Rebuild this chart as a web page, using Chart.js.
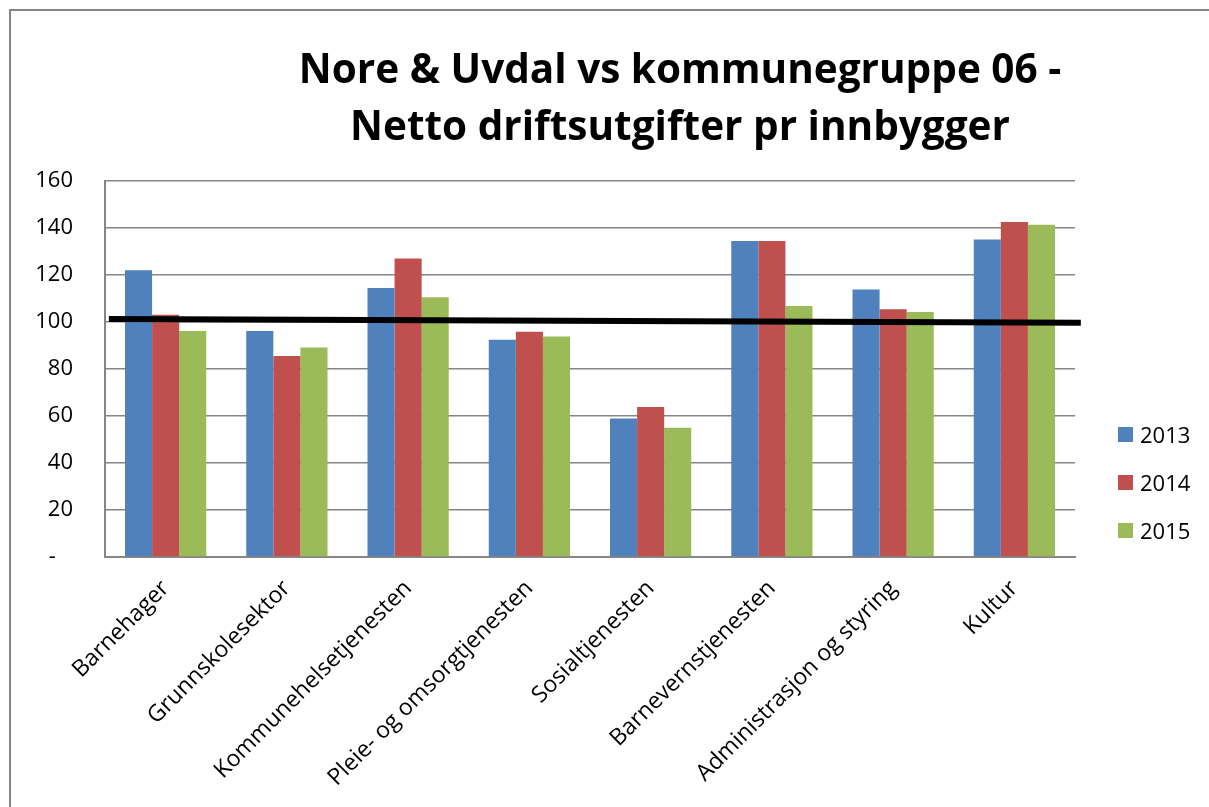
<!DOCTYPE html>
<html>
<head>
  <title>Nore & Uvdal vs kommunegruppe 06 - Netto driftsutgifter pr innbygger</title>
  <script src="https://cdn.jsdelivr.net/npm/chart.js"></script>
  <style>
    body { margin: 0; overflow: hidden; background: #fff; font-family: 'Open Sans', sans-serif; }
    #wrap { position: relative; width: 1209px; height: 807px; overflow: hidden; }
    /* chart frame: only the top and left edges are visible in the picture */
    #frame { position: absolute; left: 9px; top: 9px; width: 1300px; height: 900px;
      border-left: 2px solid #868686; border-top: 2px solid #868686; }
    #chartContainer { position: absolute; left: 0; top: 0; width: 1209px; height: 807px; }
    #chartTitle { position: absolute; left: 0; top: 39px; width: 1360px; text-align: center;
      font-weight: bold; font-size: 40.5px; line-height: 57px; color: #000; }
    #legend { position: absolute; left: 1118px; top: 410px; }
    .item { display: flex; align-items: center; height: 48px; font-size: 22px; color: #000; }
    .box { width: 15px; height: 15px; margin-right: 7px; }
  </style>
</head>
<body>
  <div id="wrap">
    <div id="frame"></div>
    <div id="chartContainer">
      <canvas id="barChart"></canvas>
    </div>
    <div id="chartTitle"></div>
    <div id="legend"></div>
  </div>

  <script>
    // Data
    const categories = ['Barnehager', 'Grunnskolesektor', 'Kommunehelsetjenesten', 'Pleie- og omsorgtjenesten',
      'Sosialtjenesten', 'Barnevernstjenesten', 'Administrasjon og styring', 'Kultur'];
    const years = ['2013', '2014', '2015'];
    const values2013 = [122, 96.2, 114.5, 92.5, 58.9, 134.5, 113.8, 135.1];
    const values2014 = [103.1, 85.5, 127, 95.9, 63.8, 134.5, 105.4, 142.6];
    const values2015 = [96.2, 89.2, 110.5, 93.8, 55, 106.8, 104.3, 141.4];
    const seriesColors = ['#4F81BD', '#C0504D', '#9BBB59'];

    // black reference line (kommunegruppe 06 = ~100), across the whole plot
    // x is a 0..1 fraction of the plot width
    const refLineX = [0.004, 1.006];
    const refLineY = [101.3, 99.7];

    const titleLines = ['Nore & Uvdal vs kommunegruppe 06 -', 'Netto driftsutgifter pr innbygger'];

    document.getElementById('chartTitle').innerHTML = titleLines.join('<br>');

    const seriesValues = [values2013, values2014, values2015];

    const barSets = years.map((y, i) => ({
      label: y,
      data: seriesValues[i],
      backgroundColor: seriesColors[i],
      borderWidth: 0,
      barPercentage: 1,
      categoryPercentage: 0.67
    }));

    // draws the reference line on top of the bars, y through the value scale
    // (a line dataset on its own x axis would make Chart.js halve the bar width)
    const refLinePlugin = {
      id: 'refLine',
      afterDatasetsDraw(chart) {
        const area = chart.chartArea;
        const ys = chart.scales.y;
        const c = chart.ctx;
        c.save();
        c.strokeStyle = '#000';
        c.lineWidth = 6;
        c.beginPath();
        refLineX.forEach((x, i) => {
          const px = area.left + x * (area.right - area.left);
          const py = ys.getPixelForValue(refLineY[i]);
          if (i === 0) c.moveTo(px, py); else c.lineTo(px, py);
        });
        c.stroke();
        c.restore();
      }
    };

    // simple HTML legend built from the series
    const legendEl = document.getElementById('legend');
    years.forEach((y, i) => {
      const item = document.createElement('div');
      item.className = 'item';
      item.innerHTML = '<div class="box" style="background:' + seriesColors[i] + '"></div>' + y;
      legendEl.appendChild(item);
    });

    const ctx = document.getElementById('barChart').getContext('2d');
    const myChart = new Chart(ctx, {
      type: 'bar',
      data: {
        labels: categories,
        datasets: barSets
      },
      plugins: [refLinePlugin],
      options: {
        responsive: true,
        maintainAspectRatio: false,
        animation: false,
        layout: { padding: { left: 0, right: 134, top: 181, bottom: 0 } },
        plugins: {
          legend: { display: false },
          title: { display: false },
          tooltip: { enabled: false }
        },
        scales: {
          x: {
            type: 'category',
            offset: true,
            grid: { display: false },
            border: { color: '#868686', width: 2 },
            ticks: {
              autoSkip: false,
              maxRotation: 45,
              minRotation: 45,
              padding: 10,
              labelOffset: 0,
              color: '#000',
              font: { family: 'Open Sans', size: 23 }
            },
            afterFit: (s) => { s.height = 250; }
          },
          y: {
            min: 0,
            max: 160,
            ticks: {
              stepSize: 20,
              padding: 32,
              color: '#000',
              font: { family: 'Open Sans', size: 22 },
              callback: (v) => v === 0 ? '-   ' : v
            },
            grid: { color: '#868686', lineWidth: 1.5, drawTicks: false },
            border: { color: '#868686', width: 2 },
            afterFit: (s) => { s.width = 105; }
          }
        }
      }
    });
  </script>
</body>
</html>
